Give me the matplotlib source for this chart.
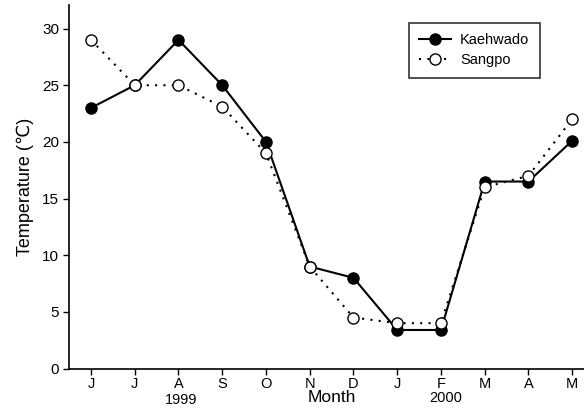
import matplotlib
matplotlib.use("Agg")
import matplotlib.pyplot as plt
from matplotlib.transforms import blended_transform_factory

months = ["J", "J", "A", "S", "O", "N", "D", "J", "F", "M", "A", "M"]
kaehwado = [23.0, 25.0, 29.0, 25.0, 20.0, 9.0, 8.0, 3.4, 3.4, 16.5, 16.5, 20.1]
sangpo = [29.0, 25.0, 25.0, 23.1, 19.0, 9.0, 4.5, 4.0, 4.0, 16.0, 17.0, 22.0]
year_labels = ["1999", "2000"]
year_pos = [2.05, 8.1]
y_ticks = [0, 5, 10, 15, 20, 25, 30]

plt.rcParams['font.family'] = ['Liberation Sans', 'DejaVu Sans']

fig = plt.figure(figsize=(5.84, 4.17), dpi=100)
ax = fig.add_axes([69/584, 48.5/417, 1 - 69/584, (368.5-5)/417])

x = list(range(len(months)))
ax.plot(x, kaehwado, '-', color='black', lw=1.5, marker='o', ms=8,
        mfc='black', mec='black', label='Kaehwado', zorder=3)
ax.plot(x, sangpo, linestyle=(0, (1, 3)), color='black', lw=1.5, marker='o', ms=8,
        mfc='white', mec='black', mew=1.0, label='Sangpo', zorder=4)

ax.set_xlim(-0.503, 11.27)
ax.set_ylim(0, 32.08)
ax.set_xticks(x)
ax.set_xticklabels(months, fontsize=10.5)
ax.set_yticks(y_ticks)
ax.set_yticklabels([str(t) for t in y_ticks], fontsize=11)
ax.spines['top'].set_visible(False)
ax.spines['right'].set_visible(False)
ax.spines['left'].set_linewidth(1.2)
ax.spines['bottom'].set_linewidth(1.2)
ax.tick_params(direction='out', length=4, width=1, pad=3)
ax.tick_params(axis='x', pad=2)

ax.set_ylabel("Temperature (℃)", fontsize=13, labelpad=6)

trans = blended_transform_factory(ax.transData, fig.transFigure)
year_tops = [393, 391]
for lab, p, t in zip(year_labels, year_pos, year_tops):
    ax.text(p, (417 - t)/417, lab, transform=trans, ha='center', va='top', fontsize=10.5)
ax.text(5.51, (417 - 390)/417, "Month", transform=trans, ha='center', va='top', fontsize=12.5)

leg = ax.legend(loc='upper left', bbox_to_anchor=((409-69)/(584-69), (368.5-22.7)/(368.5-5)),
                frameon=True, fancybox=False, edgecolor='black', fontsize=10.5,
                handlelength=2.2, borderpad=0.7, labelspacing=0.45, handletextpad=0.6,
                borderaxespad=0)
leg.get_frame().set_linewidth(1.2)

fig.savefig("out.png", dpi=100)
